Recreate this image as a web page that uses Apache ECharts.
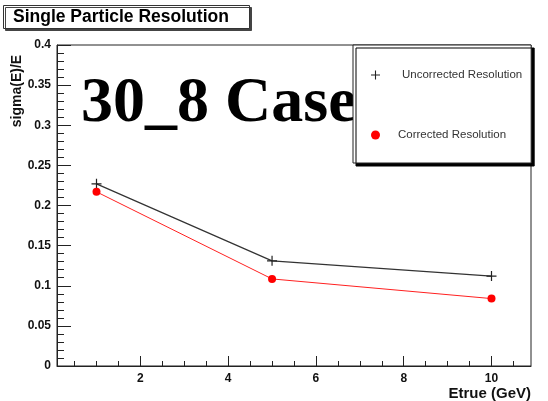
<!DOCTYPE html>
<html lang="en">
<head>
    <meta charset="UTF-8">
    <title>Single Particle Resolution</title>
    <style>
        html, body { margin: 0; padding: 0; background: #fff; }
    </style>
</head>
<body>
<div id="main" style="width: 548px;height:401px;"></div>
<script src="https://cdn.jsdelivr.net/npm/echarts@6/dist/echarts.min.js"></script>
<script type="text/javascript">
    // data
    var energies = [1, 5, 10];
    var uncorrected = [0.227, 0.131, 0.112];
    var corrected = [0.217, 0.1085, 0.084];
    var xMajorTicks = [2, 4, 6, 8, 10];
    var xMinorTicks = [0.5, 1, 1.5, 2.5, 3, 3.5, 4.5, 5, 5.5, 6.5, 7, 7.5, 8.5, 9, 9.5, 10.5];

    function pairs(xs, ys) {
        return xs.map(function (x, i) { return [x, ys[i]]; });
    }

    var plusIcon = 'path://M4.4,0H5.6V4.4H10V5.6H5.6V10H4.4V5.6H0V4.4H4.4Z';
    var labelFont = {
        color: '#111',
        fontFamily: 'Liberation Sans, Arial, sans-serif',
        fontWeight: 'bold',
        fontSize: 12
    };

    var myChart = echarts.init(document.getElementById('main'));
    var option = {
        animation: false,
        title: {
            text: 'Single Particle Resolution',
            left: 3,
            top: 5,
            padding: [3, 21, 3, 10],
            backgroundColor: '#fff',
            borderColor: '#333',
            borderWidth: 1,
            shadowColor: '#444',
            shadowOffsetX: 2,
            shadowOffsetY: 2,
            textStyle: {
                color: '#000',
                fontFamily: 'Liberation Sans, Arial, sans-serif',
                fontWeight: 'bold',
                fontSize: 17.5
            }
        },
        legend: {
            orient: 'vertical',
            left: 353,
            top: 45,
            padding: [24, 9, 22, 18],
            itemWidth: 9,
            itemHeight: 9,
            itemGap: 48,
            backgroundColor: '#fff',
            borderColor: '#222',
            borderWidth: 1,
            borderRadius: 0,
            shadowColor: '#000',
            shadowOffsetX: 3,
            shadowOffsetY: 3,
            textStyle: {
                color: '#333',
                fontFamily: 'Liberation Sans, Arial, sans-serif',
                fontSize: 11.5
            },
            data: [
                {name: 'Uncorrected Resolution', icon: plusIcon, textStyle: {padding: [0, 0, 0, 17]}},
                {name: 'Corrected Resolution', icon: 'circle', textStyle: {padding: [0, 0, 0, 13]}}
            ]
        },
        grid: {
            left: 57,
            right: 17,
            top: 45,
            bottom: 35,
            show: true,
            borderColor: '#222',
            borderWidth: 1,
            backgroundColor: 'transparent'
        },
        graphic: [
            {
                type: 'text',
                z: 1,
                style: {
                    x: 81,
                    y: 104,
                    text: '30_8 Case',
                    fill: '#000',
                    font: 'bold 64px "Liberation Serif", "Times New Roman", serif',
                    textAlign: 'left',
                    textVerticalAlign: 'middle'
                }
            },
            {
                type: 'text',
                rotation: Math.PI / 2,
                x: 17,
                y: 91,
                style: {
                    text: 'sigma(E)/E',
                    fill: '#111',
                    font: 'bold 14px "Liberation Sans", Arial, sans-serif',
                    textAlign: 'center',
                    textVerticalAlign: 'middle'
                }
            }
        ],
        xAxis: [
            {
                type: 'value',
                min: 0.1,
                max: 10.9,
                name: 'Etrue (GeV)',
                nameLocation: 'end',
                nameGap: 0,
                nameTextStyle: {
                    color: '#111',
                    fontFamily: 'Liberation Sans, Arial, sans-serif',
                    fontWeight: 'bold',
                    fontSize: 15,
                    align: 'right',
                    verticalAlign: 'top',
                    padding: [20, 0, 0, 0]
                },
                splitLine: {show: false},
                axisLine: {show: true, lineStyle: {color: '#222', width: 1}},
                axisTick: {
                    show: true,
                    inside: true,
                    length: 10,
                    customValues: xMajorTicks,
                    lineStyle: {color: '#222'}
                },
                axisLabel: Object.assign({customValues: xMajorTicks, margin: 7}, labelFont)
            },
            {
                type: 'value',
                min: 0.1,
                max: 10.9,
                position: 'bottom',
                splitLine: {show: false},
                axisLine: {show: false},
                axisLabel: {show: false},
                axisTick: {
                    show: true,
                    inside: true,
                    length: 5,
                    customValues: xMinorTicks,
                    lineStyle: {color: '#222'}
                }
            }
        ],
        yAxis: {
            type: 'value',
            min: 0,
            max: 0.4,
            interval: 0.05,
            splitLine: {show: false},
            axisLine: {show: true, lineStyle: {color: '#222', width: 1}},
            axisTick: {
                show: true,
                inside: true,
                length: 14,
                lineStyle: {color: '#222'}
            },
            minorTick: {
                show: true,
                splitNumber: 5,
                length: 7,
                lineStyle: {color: '#222'}
            },
            axisLabel: Object.assign({margin: 6}, labelFont)
        },
        series: [
            {
                name: 'Uncorrected Resolution',
                type: 'line',
                xAxisIndex: 0,
                data: pairs(energies, uncorrected),
                symbol: plusIcon,
                symbolSize: 10,
                itemStyle: {color: '#222'},
                lineStyle: {color: '#333', width: 1.2}
            },
            {
                name: 'Corrected Resolution',
                type: 'line',
                xAxisIndex: 0,
                data: pairs(energies, corrected),
                symbol: 'circle',
                symbolSize: 8,
                itemStyle: {color: '#ff0000'},
                lineStyle: {color: '#ff2020', width: 1}
            }
        ]
    };
    myChart.setOption(option);
</script>
</body>
</html>
